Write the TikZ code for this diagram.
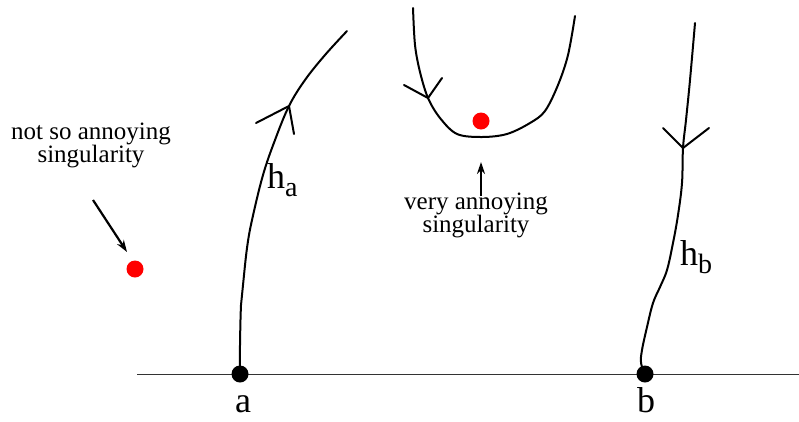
\documentclass[tikz,border=0pt]{standalone}
\usepackage{fontspec}
\setmainfont{Liberation Serif}
\usetikzlibrary{arrows.meta}
\tikzset{
  curveline/.style={line width=2pt, line join=round, line cap=round},
  barb/.style={line width=2pt, line cap=round, line join=miter},
  reddot/.style={circle, fill=red, inner sep=0pt, minimum size=17pt},
  blackdot/.style={circle, fill=black, inner sep=0pt, minimum size=17pt},
  ptr/.style={line width=2.2pt, -{Stealth[length=12pt,width=8pt]}},
  biglabel/.style={font=\fontsize{36}{38}\selectfont, inner sep=0pt},
  hlabel/.style={font=\fontsize{36}{38}\selectfont, inner sep=0pt},
  note/.style={font=\fontsize{25}{23}\selectfont, align=center, inner sep=0pt}
}
\begin{document}
\begin{tikzpicture}[x=1pt,y=-1pt]
\useasboundingbox (0,0) rectangle (799,421);
% axis
\coordinate (axL) at (137,374);
\coordinate (axR) at (799,374);
\draw[line width=1pt, black!80] (axL) -- (axR);
% endpoints
\node[blackdot] (a) at (240,374) {};
\node[blackdot] (b) at (645,374) {};
\node[biglabel, anchor=base] (la) at (243,412) {a};
\node[biglabel, anchor=base] (lb) at (646,412) {b};
% curve h_a
\draw[curveline] plot[smooth, tension=0.6] coordinates {(240,374) (240,345) (241,305) (243,285) (247,248) (252,220) (263,175) (275,140) (289,106) (305,80) (325,55) (347,31)};
\coordinate (va) at (289,106);
\coordinate (va1) at (256,123);
\coordinate (va2) at (294,134);
\draw[barb] (va1) -- (va) -- (va2);
\node[hlabel, anchor=base west] (hal) at (267,188) {h\raisebox{-8pt}{\fontsize{28}{30}\selectfont a}};
% U curve
\draw[curveline] plot[smooth, tension=0.55] coordinates {(413,8) (415,45) (420,72) (428,98) (440,118) (457,134) (482,137) (507,134) (530,123) (545,111) (558,85) (568,55) (575,16)};
\coordinate (vu) at (428,98);
\coordinate (vu1) at (404,85);
\coordinate (vu2) at (442,78);
\draw[barb] (vu1) -- (vu) -- (vu2);
% h_b curve
\draw[curveline] plot[smooth, tension=0.6] coordinates {(695,23) (690,80) (686,120) (683,148) (682,183) (678,215) (673,243) (667,270) (660,287) (653,303) (647,327) (642,350) (641,363) (645,374)};
\coordinate (vb) at (683,148);
\coordinate (vb1) at (663,128);
\coordinate (vb2) at (709,128);
\draw[barb] (vb1) -- (vb) -- (vb2);
\node[hlabel, anchor=base west] (hbl) at (680,265) {h\raisebox{-8pt}{\fontsize{28}{30}\selectfont b}};
% singularities
\node[reddot] (s1) at (135,269) {};
\node[reddot] (s2) at (481,121) {};
\node[note, anchor=base] (t1) at (91,162) {not so annoying\\singularity};
\coordinate (p1) at (93,200);
\coordinate (p1e) at (127,252);
\draw[ptr] (p1) -- (p1e);
\node[note, anchor=base] (t2) at (476,232) {very annoying\\singularity};
\coordinate (p2) at (481,196);
\coordinate (p2e) at (481,162);
\draw[ptr] (p2) -- (p2e);
\end{tikzpicture}
\end{document}
